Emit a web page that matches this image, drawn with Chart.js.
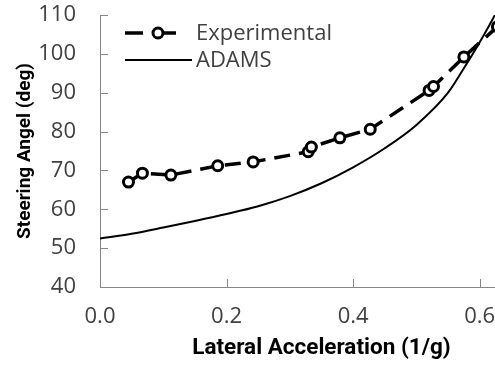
<!DOCTYPE html>
<html>
<head>
<meta charset="utf-8">
<script src="https://cdn.jsdelivr.net/npm/chart.js@4"></script>
<style>
  html, body { margin: 0; padding: 0; background: #fff; overflow: hidden; }
  #wrap { position: relative; width: 495px; height: 366px; overflow: hidden; }
  #c { position: absolute; left: 0; top: 0; display: block; width: 543px; height: 366px; }
</style>
</head>
<body>
<div id="wrap"><canvas id="c" width="543" height="366"></canvas></div>
<script>
// Measured steering angle vs lateral acceleration
const expX = [0.045, 0.067, 0.112, 0.186, 0.242, 0.329, 0.334, 0.379, 0.427, 0.520, 0.527, 0.575, 0.628];
const expY = [67.0, 69.3, 68.8, 71.2, 72.2, 74.8, 76.0, 78.4, 80.6, 90.6, 91.6, 99.2, 107.0];

// Simulated (ADAMS) response
const adamsX = [0.00, 0.05, 0.10, 0.15, 0.20, 0.25, 0.30, 0.35, 0.40, 0.45, 0.50, 0.55, 0.575, 0.60, 0.625, 0.65];
const adamsY = [52.5, 53.7, 55.3, 57.0, 58.8, 60.8, 63.4, 66.7, 70.8, 75.7, 81.7, 90.0, 96.3, 103.0, 110.3, 118.5];

const xTicks = [0, 0.2, 0.4, 0.6];
const yTicks = [40, 50, 60, 70, 80, 90, 100, 110];

const seriesNames = ['Experimental', 'ADAMS'];

const toPts = (xs, ys) => xs.map((x, i) => ({ x: x, y: ys[i] }));

const AXIS_GREY = '#868686';
const TEXT = '#404040';
const TICK_FONT = { family: "'Open Sans', 'Noto Sans', sans-serif", size: 22, lineHeight: 1.2 };
const XTITLE_FONT = { family: "Roboto, sans-serif", size: 22.5, weight: 'bold', lineHeight: 1.2 };
const YTITLE_FONT = { family: "Roboto, sans-serif", size: 19, weight: 'bold', lineHeight: 1.2 };

// Excel-style tick marks pointing into the plot area
const insideTicks = {
  id: 'insideTicks',
  afterDraw(chart) {
    const { ctx, chartArea, scales } = chart;
    ctx.save();
    ctx.strokeStyle = AXIS_GREY;
    ctx.lineWidth = 1;
    ctx.beginPath();
    yTicks.forEach(v => {
      const py = Math.round(scales.y.getPixelForValue(v)) + 0.5;
      ctx.moveTo(chartArea.left, py);
      ctx.lineTo(chartArea.left + 8, py);
    });
    xTicks.forEach(v => {
      const px = Math.round(scales.x.getPixelForValue(v)) + 0.5;
      ctx.moveTo(px, chartArea.bottom);
      ctx.lineTo(px, chartArea.bottom - 8);
    });
    ctx.stroke();
    ctx.restore();
  }
};

// Legend block in the upper-left of the plot
const legendBox = {
  id: 'legendBox',
  afterDraw(chart) {
    const { ctx } = chart;
    const x0 = 125, x1 = 192, tx = 196;
    const rows = [33, 60];
    ctx.save();
    ctx.strokeStyle = '#000';
    ctx.lineCap = 'butt';
    // dashed series glyph: dash, marker, dash
    ctx.lineWidth = 3.5;
    ctx.beginPath();
    ctx.moveTo(x0, rows[0]); ctx.lineTo(143, rows[0]);
    ctx.moveTo(163, rows[0]); ctx.lineTo(176, rows[0]);
    ctx.stroke();
    ctx.beginPath();
    ctx.arc(158, rows[0], 5, 0, Math.PI * 2);
    ctx.fillStyle = '#fff';
    ctx.fill();
    ctx.lineWidth = 3;
    ctx.stroke();
    // solid series glyph
    ctx.lineWidth = 2;
    ctx.beginPath();
    ctx.moveTo(x0, rows[1]); ctx.lineTo(x1, rows[1]);
    ctx.stroke();
    ctx.fillStyle = TEXT;
    ctx.font = TICK_FONT.size + 'px ' + TICK_FONT.family;
    ctx.textBaseline = 'middle';
    ctx.textAlign = 'left';
    ctx.fillText(seriesNames[0], tx, rows[0] + 1);
    ctx.fillText(seriesNames[1], tx, rows[1] + 1);
    ctx.restore();
  }
};

new Chart(document.getElementById('c'), {
  type: 'line',
  data: {
    datasets: [
      {
        label: seriesNames[0],
        data: toPts(expX, expY),
        borderColor: '#000',
        borderWidth: 3.5,
        borderDash: [16, 9],
        pointRadius: 5,
        pointBorderWidth: 3,
        pointBackgroundColor: '#fff',
        pointBorderColor: '#000',
        tension: 0,
        order: 1
      },
      {
        label: seriesNames[1],
        data: toPts(adamsX, adamsY),
        borderColor: '#000',
        borderWidth: 2,
        pointRadius: 0,
        cubicInterpolationMode: 'monotone',
        order: 2
      }
    ]
  },
  options: {
    responsive: false,
    animation: false,
    devicePixelRatio: 1,
    layout: { autoPadding: false, padding: { top: 15, right: 0, left: 0, bottom: 0 } },
    plugins: { legend: { display: false }, tooltip: { enabled: false } },
    scales: {
      x: {
        type: 'linear',
        min: 0, max: 0.7,
        afterBuildTicks: s => { s.ticks = xTicks.map(v => ({ value: v })); },
        afterFit: s => { s.height = 79; s.paddingLeft = 0; s.paddingRight = 0; },
        grid: { display: false, drawTicks: false },
        border: { display: true, color: AXIS_GREY, width: 1 },
        ticks: {
          color: TEXT, font: TICK_FONT, padding: 17, maxRotation: 0,
          callback: v => v.toFixed(1)
        },
        title: {
          display: true, text: 'Lateral Acceleration (1/g)', color: '#000',
          font: XTITLE_FONT, padding: { top: 0, bottom: 4 }
        }
      },
      y: {
        min: 40, max: 110,
        afterBuildTicks: s => { s.ticks = yTicks.map(v => ({ value: v })); },
        afterFit: s => { s.width = 100; s.paddingTop = 0; s.paddingBottom = 0; },
        grid: { display: false, drawTicks: false },
        border: { display: true, color: AXIS_GREY, width: 1 },
        ticks: { color: TEXT, font: TICK_FONT, padding: 24 },
        title: {
          display: true, text: 'Steering Angel (deg)', color: '#000',
          font: YTITLE_FONT, padding: { top: 14, bottom: 0 }
        }
      }
    }
  },
  plugins: [insideTicks, legendBox]
});
</script>
</body>
</html>
